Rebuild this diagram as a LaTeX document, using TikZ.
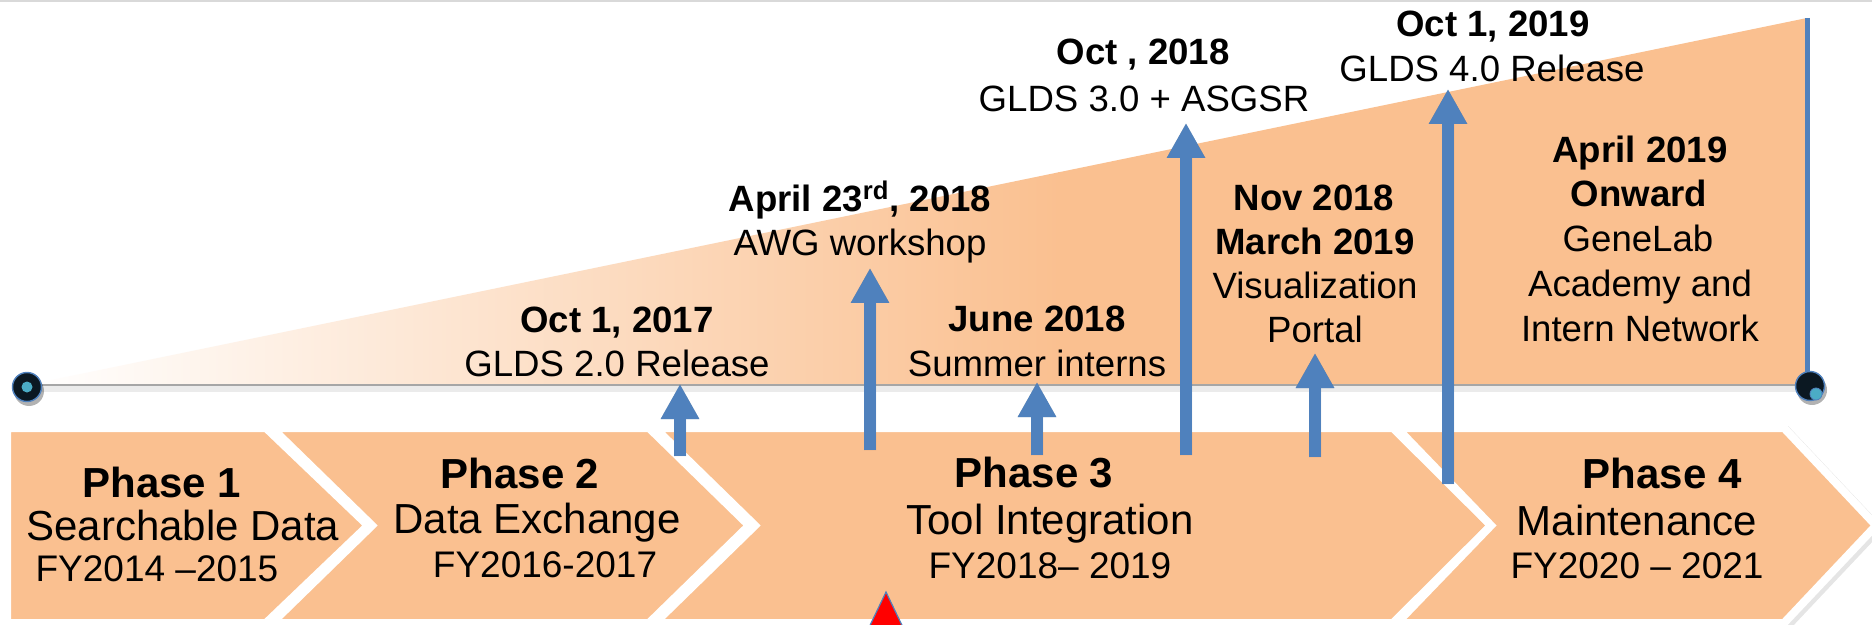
\documentclass[tikz,border=0pt]{standalone}
\usepackage{fontspec}
\setmainfont{Liberation Sans}
\usetikzlibrary{arrows.meta}
\definecolor{peach}{HTML}{FAC090}
\definecolor{bblue}{HTML}{4F81BD}
\definecolor{navy}{HTML}{0B1822}
\definecolor{cyand}{HTML}{4BACC6}
\tikzset{
 evb/.style={anchor=base, inner sep=0pt, font=\fontsize{18.3}{22}\selectfont\bfseries},
 evt/.style={anchor=base, inner sep=0pt, font=\fontsize{18.3}{22}\selectfont},
 phb/.style={anchor=base, inner sep=0pt, font=\fontsize{21}{25}\selectfont\bfseries},
 pht/.style={anchor=base, inner sep=0pt, font=\fontsize{21}{25}\selectfont},
 phy/.style={anchor=base, inner sep=0pt, font=\fontsize{18.5}{22}\selectfont},
 phase/.style={fill=peach, draw=white, line width=4pt, line join=miter},
 phshadow/.style={draw=black, opacity=0.1, line width=5pt, line join=miter},
 uparrow/.style={draw=bblue, line width=6pt, -{Triangle[width=18pt,length=17.5pt]}},
 upshadow/.style={draw=black, line width=6pt, -{Triangle[width=18pt,length=17.5pt]}},
 dotnode/.style={circle, inner sep=0pt},
}
\begin{document}
\begin{tikzpicture}[x=0.5pt, y=-0.5pt]
\useasboundingbox (0,0) rectangle (1872,625);
\fill[white] (0,0) rectangle (1872,625);
\draw[black!15, line width=1.5pt] (0,0.75) -- (1872,0.75);

% wedge
\begin{scope}
\clip (27,385) -- (1807,18) -- (1807,385) -- cycle;
\shade[left color=white, right color=peach] (27,0) rectangle (1060,390);
\fill[peach] (1058,0) rectangle (1812,390);
\end{scope}
\draw[black, opacity=0.08, line width=3pt] (27,389) -- (1807,389);
\draw[black!35, line width=1pt] (27,385) -- (1807,385);

% phase shapes: shadows
\begin{scope}[shift={(2,3)}]
\draw[phshadow] (7,428) -- (266,428) -- (368,525.5) -- (266,623) -- (7,623) -- cycle;
\draw[phshadow] (272,428) -- (649,428) -- (749,525.5) -- (649,623) -- (272,623) -- (372,525.5) -- cycle;
\draw[phshadow] (655,428) -- (1393,428) -- (1491,525.5) -- (1393,623) -- (655,623) -- (755,525.5) -- cycle;
\draw[phshadow] (1397,428) -- (1784,428) -- (1876,525.5) -- (1784,623) -- (1397,623) -- (1491,525.5) -- cycle;
\end{scope}
% phase shapes
\draw[phase] (7,428) -- (266,428) -- (368,525.5) -- (266,623) -- (7,623) -- cycle;
\draw[phase] (272,428) -- (649,428) -- (749,525.5) -- (649,623) -- (272,623) -- (372,525.5) -- cycle;
\draw[phase] (655,428) -- (1393,428) -- (1491,525.5) -- (1393,623) -- (655,623) -- (755,525.5) -- cycle;
\draw[phase] (1397,428) -- (1784,428) -- (1876,525.5) -- (1784,623) -- (1397,623) -- (1491,525.5) -- cycle;

% arrow coordinates
\coordinate (a1s) at (680,456);  \coordinate (a1t) at (680,384);
\coordinate (a2s) at (870,450);  \coordinate (a2t) at (870,268);
\coordinate (a3s) at (1037,455); \coordinate (a3t) at (1037,382);
\coordinate (a4s) at (1186,455); \coordinate (a4t) at (1186,123);
\coordinate (a5s) at (1315,457); \coordinate (a5t) at (1315,353);
\coordinate (a6s) at (1448,484); \coordinate (a6t) at (1448,89);

% arrow shadows
\begin{scope}[transparency group, opacity=0.22, shift={(4,3)}]
\foreach \n in {1,...,6} {\draw[upshadow] (a\n s) -- (a\n t);}
\end{scope}
% arrows
\foreach \n in {1,...,6} {\draw[uparrow] (a\n s) -- (a\n t);}

% right edge line and end circles
\node[dotnode, fill=black, opacity=0.3, minimum size=15pt] (lcs) at (29,391) {};
\node[dotnode, fill=navy, draw=bblue, line width=0.7pt, minimum size=14.5pt] (lc) at (27,387) {};
\node[dotnode, fill=cyand, minimum size=5.5pt] (lcd) at (lc) {};
\draw[bblue, line width=2.5pt] (1807,18) -- (1807,380);
\node[dotnode, fill=black, opacity=0.3, minimum size=15pt] (rcs) at (1812,390) {};
\node[dotnode, fill=navy, draw=bblue, line width=0.7pt, minimum size=14.5pt] (rc) at (1810,386) {};
\node[dotnode, fill=cyand, draw=bblue, line width=0.4pt, minimum size=6pt] (rcd) at (1816,394) {};

% red triangle
\draw[fill=red, draw=bblue, line width=0.6pt] (886,592) -- (910,642) -- (862,642) -- cycle;

% phase texts
\node[phb] (p1a) at (162,497) {Phase 1};
\node[pht] (p1b) at (183,540) {Searchable Data};
\node[phy] (p1c) at (157,581) {FY2014 –2015};
\node[phb] (p2a) at (520,488) {Phase 2};
\node[pht] (p2b) at (537,533) {Data Exchange};
\node[phy] (p2c) at (545,577) {FY2016-2017};
\node[phb] (p3a) at (1034,487) {Phase 3};
\node[pht] (p3b) at (1050,534) {Tool Integration};
\node[phy] (p3c) at (1050,578) {FY2018– 2019};
\node[phb] (p4a) at (1662,488) {Phase 4};
\node[pht] (p4b) at (1637,535) {Maintenance};
\node[phy] (p4c) at (1637,578) {FY2020 – 2021};

% event texts
\node[evb] (e1a) at (617,333) {Oct 1, 2017};
\node[evt] (e1b) at (617,377) {GLDS 2.0 Release};
\node[evb] (e2a) at (860,212) {April 23\textsuperscript{rd}, 2018};
\node[evt] (e2b) at (860,256) {AWG workshop};
\node[evb] (e3a) at (1037,332) {June 2018};
\node[evt] (e3b) at (1037,377) {Summer interns};
\node[evb] (e4a) at (1143,65) {Oct , 2018};
\node[evt] (e4b) at (1144,112) {GLDS 3.0 + ASGSR};
\node[evb] (e5a) at (1314,211) {Nov 2018};
\node[evb] (e5b) at (1315,255) {March 2019};
\node[evt] (e5c) at (1315,299) {Visualization};
\node[evt] (e5d) at (1315,343) {Portal};
\node[evb] (e6a) at (1493,37) {Oct 1, 2019};
\node[evt] (e6b) at (1492,82) {GLDS 4.0 Release};
\node[evb] (e7a) at (1640,163) {April 2019};
\node[evb] (e7b) at (1639,207) {Onward};
\node[evt] (e7c) at (1638,252) {GeneLab};
\node[evt] (e7d) at (1640,297) {Academy and};
\node[evt] (e7e) at (1640,342) {Intern Network};
\end{tikzpicture}
\end{document}
